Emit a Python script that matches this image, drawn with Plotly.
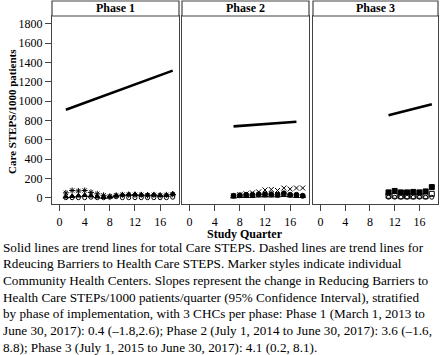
import plotly.graph_objects as go

# ---- data ----
phase_titles = ["Phase 1", "Phase 2", "Phase 3"]
x_ticks = [0, 4, 8, 12, 16]
y_ticks = [0, 200, 400, 600, 800, 1000, 1200, 1400, 1600, 1800]

trend_p1_x = [1, 18]
trend_p1_y = [910, 1315]
trend_p2_x = [7, 17]
trend_p2_y = [738, 786]
trend_p3_x = [11, 18]
trend_p3_y = [852, 966]

q_p1 = list(range(1, 19))
p1_star = [50, 75, 70, 75, 55, 40, 25, 15, 25, 30, 30, 30, 30, 25, 30, 25, 30, 35]
p1_filled = [10, 15, 20, 25, 20, 10, 5, 10, 20, 30, 35, 35, 30, 30, 30, 25, 25, 40]
p1_circle = [0, 0, 0, 0, 5, 0, 0, 5, 10, 0, 0, 0, 0, 0, 0, 0, 0, 5]

q_p2 = list(range(7, 19))
p2_tri = [10, 15, 15, 15, 20, 20, 20, 20, 25, 20, 15, 15]
p2_filled = [20, 25, 30, 30, 35, 35, 35, 30, 45, 30, 30, 20]
p2_x = [20, 30, 40, 50, 60, 80, 85, 75, 100, 90, 100, 100]

q_p3 = list(range(11, 19))
p3_filled_sq = [55, 70, 55, 55, 60, 55, 65, 110]
p3_open_sq = [20, 20, 15, 15, 15, 20, 15, 40]
p3_circle = [5, 5, 5, 5, 5, 5, 5, 5]

caption_lines = [
    "Solid lines are trend lines for total Care STEPS. Dashed lines are trend lines for",
    "Rdeucing Barriers to Health Care STEPS. Marker styles indicate individual",
    "Community Health Centers. Slopes represent the change in Reducing Barriers to",
    "Health Care STEPs/1000 patients/quarter (95% Confidence Interval), stratified",
    "by phase of implementation, with 3 CHCs per phase: Phase 1 (March 1, 2013 to",
    "June 30, 2017): 0.4 (\u20131.8,2.6); Phase 2 (July 1, 2014 to June 30, 2017): 3.6 (\u20131.6,",
    "8.8); Phase 3 (July 1, 2015 to June 30, 2017): 4.1 (0.2, 8.1).",
]

# ---- layout geometry (px) ----
W, H = 440, 355
panels_px = [(52, 179), (182, 309), (313, 438)]
plot_top, plot_bot = 16, 204
strip_top = 1
FONT = "Liberation Serif"
LINE = "#444444"

fig = go.Figure()

def px2x(p):
    return p / W

def px2y(p):
    return 1 - p / H

series = [
    [(q_p1, p1_star, "asterisk-open", 5), (q_p1, p1_filled, "triangle-up", 5), (q_p1, p1_circle, "circle-open", 4)],
    [(q_p2, p2_tri, "triangle-up-open", 5), (q_p2, p2_filled, "circle", 5), (q_p2, p2_x, "x-thin-open", 5)],
    [(q_p3, p3_filled_sq, "square", 5), (q_p3, p3_open_sq, "square-open", 5), (q_p3, p3_circle, "circle-open", 4)],
]
trends = [(trend_p1_x, trend_p1_y), (trend_p2_x, trend_p2_y), (trend_p3_x, trend_p3_y)]

for i in range(3):
    xa = "x" if i == 0 else f"x{i+1}"
    ya = "y" if i == 0 else f"y{i+1}"
    for (qx, qy, sym, sz) in series[i]:
        fig.add_trace(go.Scatter(x=qx, y=qy, mode="markers", xaxis=xa, yaxis=ya,
                                 marker=dict(symbol=sym, size=sz, color="black",
                                             line=dict(color="black", width=1)),
                                 showlegend=False))
    tx, ty = trends[i]
    fig.add_trace(go.Scatter(x=tx, y=ty, mode="lines", xaxis=xa, yaxis=ya,
                             line=dict(color="black", width=2.6), showlegend=False))

layout = dict(width=W, height=H, margin=dict(l=0, r=0, t=0, b=0),
              paper_bgcolor="white", plot_bgcolor="white", showlegend=False,
              font=dict(family=FONT, color="black", size=11))

for i, (l, r) in enumerate(panels_px):
    xk = "xaxis" if i == 0 else f"xaxis{i+1}"
    yk = "yaxis" if i == 0 else f"yaxis{i+1}"
    layout[xk] = dict(domain=[px2x(l), px2x(r)], range=[-1.2, 19], tickvals=x_ticks,
                      ticks="outside", ticklen=6, tickcolor=LINE, showgrid=False, zeroline=False,
                      showline=True, linecolor=LINE, linewidth=1.2, mirror=True,
                      anchor="y" if i == 0 else f"y{i+1}",
                      tickfont=dict(family=FONT, size=12, color="black"))
    layout[yk] = dict(domain=[px2y(plot_bot), px2y(plot_top)], range=[-65, 1880],
                      tickvals=y_ticks, showticklabels=(i == 0),
                      ticks="outside" if i == 0 else "", ticklen=6, tickcolor=LINE,
                      showgrid=False, zeroline=False,
                      showline=True, linecolor=LINE, linewidth=1.2, mirror=True,
                      anchor="x" if i == 0 else f"x{i+1}",
                      tickfont=dict(family=FONT, size=12, color="black"))

fig.update_layout(**layout)

shapes = []
annotations = []
for i, (l, r) in enumerate(panels_px):
    shapes.append(dict(type="rect", xref="paper", yref="paper",
                       x0=px2x(l), x1=px2x(r), y0=px2y(plot_top), y1=px2y(strip_top),
                       line=dict(color=LINE, width=1.2), fillcolor="white"))
    annotations.append(dict(text="<b>" + phase_titles[i] + "</b>", xref="paper", yref="paper",
                            x=px2x((l + r) / 2), y=px2y((strip_top + plot_top) / 2),
                            xanchor="center", yanchor="middle", showarrow=False,
                            font=dict(family=FONT, size=12, color="black")))

annotations.append(dict(text="<b>Care STEPS/1000 patients</b>", xref="paper", yref="paper",
                        x=px2x(12), y=px2y(112), textangle=-90,
                        xanchor="center", yanchor="middle", showarrow=False,
                        font=dict(family=FONT, size=11, color="black")))
annotations.append(dict(text="<b>Study Quarter</b>", xref="paper", yref="paper",
                        x=px2x(245), y=px2y(234), xanchor="center", yanchor="middle",
                        showarrow=False, font=dict(family=FONT, size=12, color="black")))
for k, line in enumerate(caption_lines):
    annotations.append(dict(text=line, xref="paper", yref="paper",
                            x=px2x(1), y=px2y(247 + 16.67 * k), xanchor="left", yanchor="middle",
                            align="left", showarrow=False,
                            font=dict(family=FONT, size=13.2, color="black")))

fig.update_layout(shapes=shapes, annotations=annotations)
fig.write_html("out.html", config={"displayModeBar": False},
               post_script="document.body.style.margin='0';document.body.style.overflow='hidden';")
